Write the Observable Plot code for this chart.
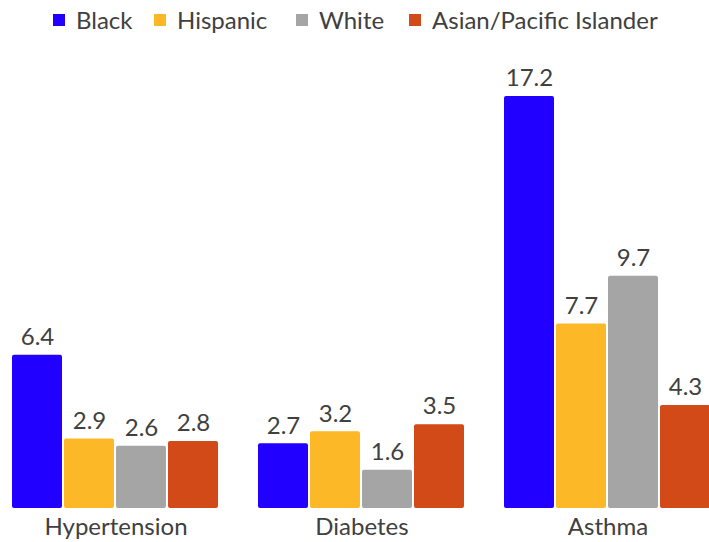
<!DOCTYPE html>
<html>
<head>
<meta charset="utf-8">
<script src="https://cdn.jsdelivr.net/npm/d3@7"></script>
<script src="https://cdn.jsdelivr.net/npm/@observablehq/plot@0.6"></script>
<style>
  html, body { margin: 0; background: #fff; font-family: Lato, "Open Sans", sans-serif; overflow: hidden; }
  #legend { height: 40px; position: relative; font-size: 24px; color: #404040; }
  #legend .item { position: absolute; top: 5px; display: flex; align-items: center; white-space: nowrap; }
  #legend .sw { width: 12px; height: 12px; margin-right: 11px; display: inline-block; }
  #chart svg { max-width: none !important; }
</style>
</head>
<body>
<div id="legend"></div>
<div id="chart"></div>
<script>
const conditions = ["Hypertension", "Diabetes", "Asthma"];
const groups = ["Black", "Hispanic", "White", "Asian/Pacific Islander"];
const colors = ["#2200ff", "#fdb827", "#a5a5a5", "#d24a17"];
const blackVals = [6.4, 2.7, 17.2];
const hispanicVals = [2.9, 3.2, 7.7];
const whiteVals = [2.6, 1.6, 9.7];
const asianVals = [2.8, 3.5, 4.3];
const legendX = [53, 154, 296, 409];

const series = [blackVals, hispanicVals, whiteVals, asianVals];
const data = [];
conditions.forEach((c, i) => groups.forEach((g, j) => data.push({condition: c, group: g, value: series[j][i]})));

const legend = document.getElementById("legend");
groups.forEach((g, j) => {
  const d = document.createElement("div");
  d.className = "item";
  d.style.left = legendX[j] + "px";
  d.innerHTML = `<span class="sw" style="background:${colors[j]}"></span><span>${g}</span>`;
  legend.appendChild(d);
});

const chart = Plot.plot({
  width: 713,
  height: 502,
  marginLeft: 9,
  marginRight: 0,
  marginTop: 56,
  marginBottom: 34,
  style: {fontFamily: "Lato, 'Open Sans', sans-serif", color: "#404040", overflow: "visible", maxWidth: "none"},
  fx: {domain: conditions, paddingInner: 0.143, paddingOuter: 0, label: null},
  x: {domain: groups, padding: 0.03, axis: null},
  y: {domain: [0, 17.2], axis: null},
  color: {domain: groups, range: colors},
  marks: [
    Plot.barY(data, {fx: "condition", x: "group", y: "value", fill: "group", rx: 2}),
    Plot.text(data, {fx: "condition", x: "group", y: "value", text: d => d.value.toFixed(1), dy: -18, fontSize: 24, fill: "#404040"}),
    Plot.axisFx({tickSize: 0, tickPadding: 9, fontSize: 24, label: null, anchor: "bottom"})
  ]
});
document.getElementById("chart").appendChild(chart);
</script>
</body>
</html>
